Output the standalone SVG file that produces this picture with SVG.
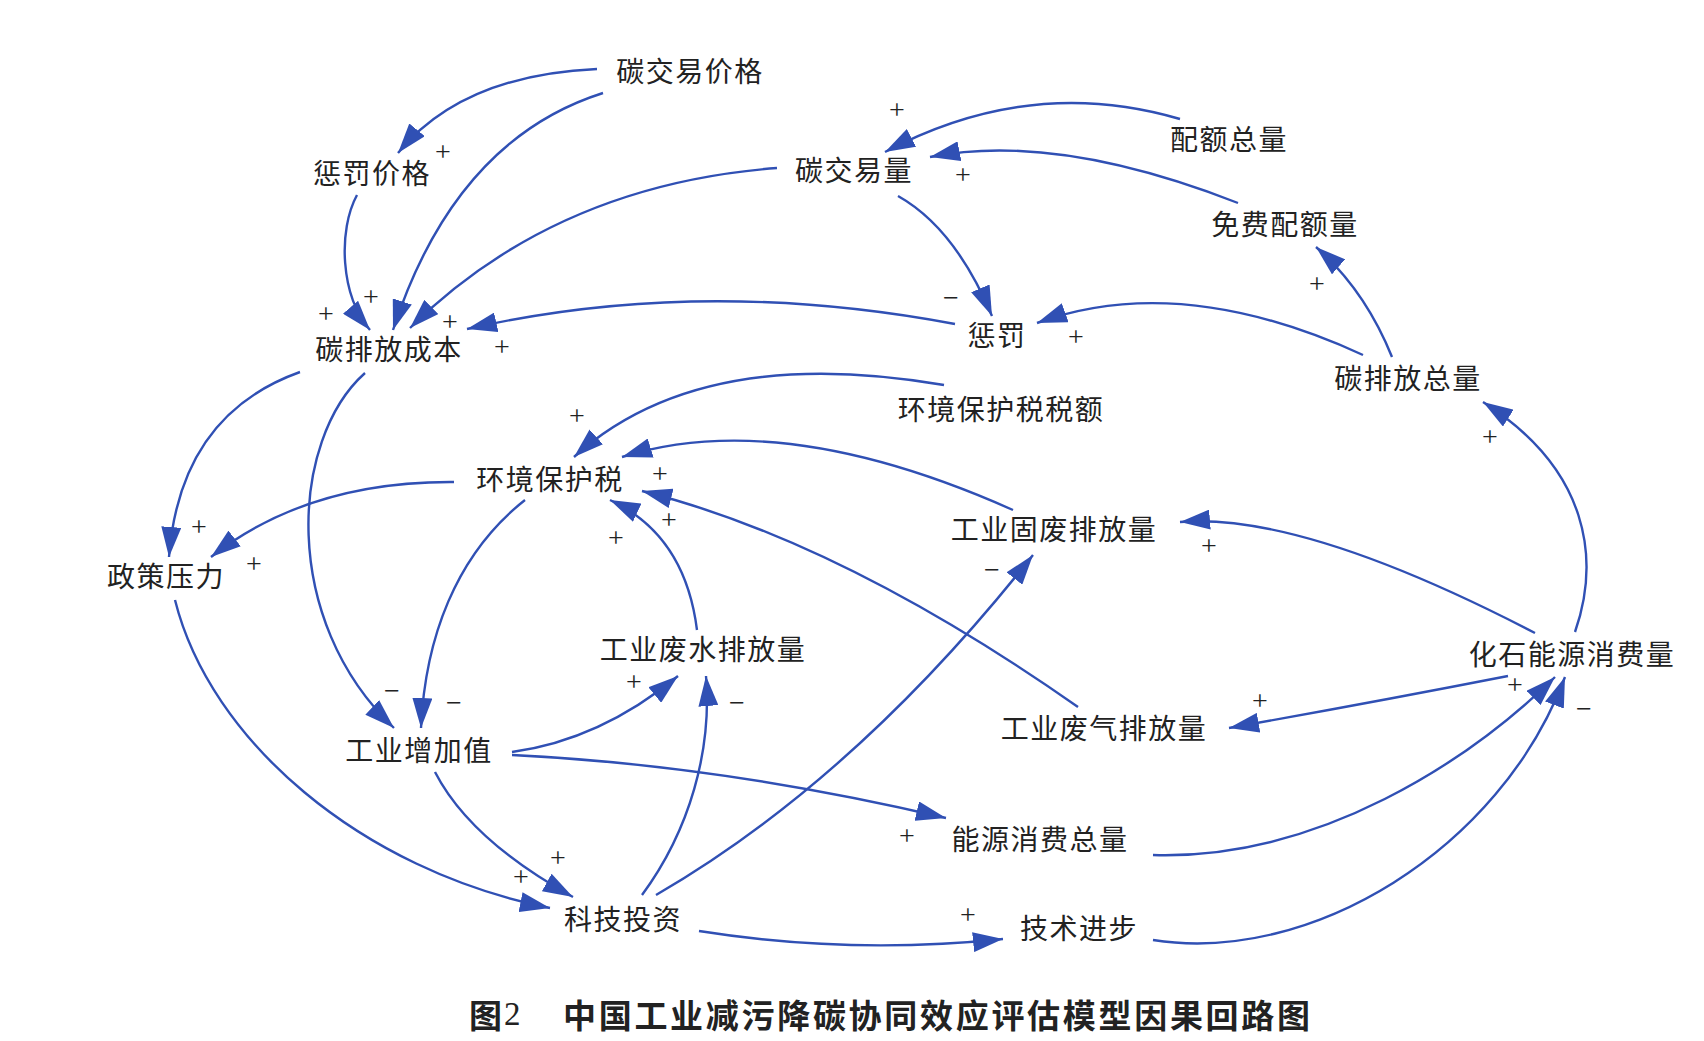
<svg xmlns="http://www.w3.org/2000/svg" width="1704" height="1041" viewBox="0 0 1704 1041">
  <defs>
    <style>
      .n { font-family: "Liberation Serif", "Noto Sans CJK SC", serif; font-size: 28px; letter-spacing: 1.5px; fill: #222; text-anchor: middle; dominant-baseline: central; }
      .s { font-family: "Liberation Serif", "Noto Sans CJK SC", serif; font-size: 28px; fill: #222; text-anchor: middle; dominant-baseline: central; }
      .e { fill: none; stroke: #3050b4; stroke-width: 2.4; marker-end: url(#ah); }
      .t { font-family: "Noto Sans CJK SC", sans-serif; font-size: 33px; font-weight: bold; fill: #222; dominant-baseline: central; }
    </style>
    <marker id="ah" markerUnits="userSpaceOnUse" viewBox="0 0 30 20" markerWidth="30" markerHeight="20" refX="30" refY="10" orient="auto">
      <path d="M0,0 L30,10 L0,20 z" fill="#3050b4"/>
    </marker>
  </defs>
  <rect width="1704" height="1041" fill="#fff"/>

  <!-- causal links -->
  <g id="connectors">
    <path class="e" d="M597,69 Q462,75 398,153"/>
    <path class="e" d="M603,93 Q455,140 393,330"/>
    <path class="e" d="M357,195 C338,230 340,295 370,330"/>
    <path class="e" d="M777,168 Q555,185 410,328"/>
    <path class="e" d="M955,324 Q700,276 467,329"/>
    <path class="e" d="M898,196 Q955,228 992,316"/>
    <path class="e" d="M1180,119 Q1030,75 885,152"/>
    <path class="e" d="M1238,203 Q1056,132 930,157"/>
    <path class="e" d="M1392,357 Q1365,290 1316,247"/>
    <path class="e" d="M1363,355 Q1180,271 1037,323"/>
    <path class="e" d="M944,385 Q700,343 574,457"/>
    <path class="e" d="M1013,510 Q782,407 622,457"/>
    <path class="e" d="M1078,707 Q841,541 642,491"/>
    <path class="e" d="M697,630 Q685,535 610,500"/>
    <path class="e" d="M454,482 Q308,481 211,557"/>
    <path class="e" d="M300,372 Q180,415 169,557"/>
    <path class="e" d="M365,373 C290,440 280,620 394,728"/>
    <path class="e" d="M525,500 C455,555 425,640 421,728"/>
    <path class="e" d="M175,600 C210,740 360,870 550,908"/>
    <path class="e" d="M435,772 Q470,840 573,897"/>
    <path class="e" d="M512,752 Q600,740 678,676"/>
    <path class="e" d="M512,755 Q720,765 946,818"/>
    <path class="e" d="M642,895 C690,830 712,750 706,676"/>
    <path class="e" d="M656,895 Q856,779 1033,555"/>
    <path class="e" d="M699,931 Q850,955 1003,939"/>
    <path class="e" d="M1153,855 C1320,860 1470,760 1555,677"/>
    <path class="e" d="M1153,940 C1310,965 1500,850 1565,677"/>
    <path class="e" d="M1508,676 Q1375,702 1229,728"/>
    <path class="e" d="M1535,633 Q1302,512 1180,522"/>
    <path class="e" d="M1575,632 C1600,560 1590,470 1483,402"/>
  </g>

  <!-- link polarities -->
  <g id="polarity">
    <text class="s" x="443" y="151">+</text>
    <text class="s" x="326" y="313">+</text>
    <text class="s" x="371" y="296">+</text>
    <text class="s" x="450" y="321">+</text>
    <text class="s" x="502" y="346">+</text>
    <text class="s" x="897" y="109">+</text>
    <text class="s" x="963" y="174">+</text>
    <text class="s" x="951" y="297">−</text>
    <text class="s" x="1076" y="336">+</text>
    <text class="s" x="1317" y="283">+</text>
    <text class="s" x="577" y="415">+</text>
    <text class="s" x="660" y="473">+</text>
    <text class="s" x="669" y="519">+</text>
    <text class="s" x="616" y="537">+</text>
    <text class="s" x="199" y="526">+</text>
    <text class="s" x="254" y="563">+</text>
    <text class="s" x="1490" y="436">+</text>
    <text class="s" x="1209" y="545">+</text>
    <text class="s" x="992" y="569">−</text>
    <text class="s" x="634" y="681">+</text>
    <text class="s" x="392" y="690">−</text>
    <text class="s" x="454" y="702">−</text>
    <text class="s" x="737" y="702">−</text>
    <text class="s" x="1260" y="700">+</text>
    <text class="s" x="1515" y="684">+</text>
    <text class="s" x="1584" y="708">−</text>
    <text class="s" x="558" y="857">+</text>
    <text class="s" x="521" y="876">+</text>
    <text class="s" x="907" y="835">+</text>
    <text class="s" x="968" y="914">+</text>
  </g>

  <!-- variables -->
  <g id="carbon-trade-price"><text class="n" x="690" y="72">碳交易价格</text></g>
  <g id="penalty-price"><text class="n" x="372" y="174">惩罚价格</text></g>
  <g id="carbon-emission-cost"><text class="n" x="389" y="350">碳排放成本</text></g>
  <g id="carbon-trade-volume"><text class="n" x="854" y="171">碳交易量</text></g>
  <g id="total-quota"><text class="n" x="1229" y="140">配额总量</text></g>
  <g id="free-quota"><text class="n" x="1285" y="225">免费配额量</text></g>
  <g id="penalty"><text class="n" x="997" y="336">惩罚</text></g>
  <g id="total-carbon-emission"><text class="n" x="1408" y="379">碳排放总量</text></g>
  <g id="env-tax-amount"><text class="n" x="1001" y="410">环境保护税税额</text></g>
  <g id="env-tax"><text class="n" x="550" y="480">环境保护税</text></g>
  <g id="solid-waste"><text class="n" x="1054" y="530">工业固废排放量</text></g>
  <g id="policy-pressure"><text class="n" x="166" y="577">政策压力</text></g>
  <g id="waste-water"><text class="n" x="703" y="650">工业废水排放量</text></g>
  <g id="fossil-energy"><text class="n" x="1572" y="655">化石能源消费量</text></g>
  <g id="waste-gas"><text class="n" x="1104" y="729">工业废气排放量</text></g>
  <g id="industrial-value-added"><text class="n" x="419" y="751">工业增加值</text></g>
  <g id="total-energy"><text class="n" x="1040" y="840">能源消费总量</text></g>
  <g id="tech-investment"><text class="n" x="623" y="920">科技投资</text></g>
  <g id="tech-progress"><text class="n" x="1079" y="929">技术进步</text></g>

  <!-- caption -->
  <g id="caption">
    <text class="t" x="469" y="1014">图<tspan font-family="Liberation Serif, serif" font-weight="normal" dx="2">2</tspan></text>
    <text class="t" x="563" y="1014" letter-spacing="2.7">中国工业减污降碳协同效应评估模型因果回路图</text>
  </g>
</svg>
